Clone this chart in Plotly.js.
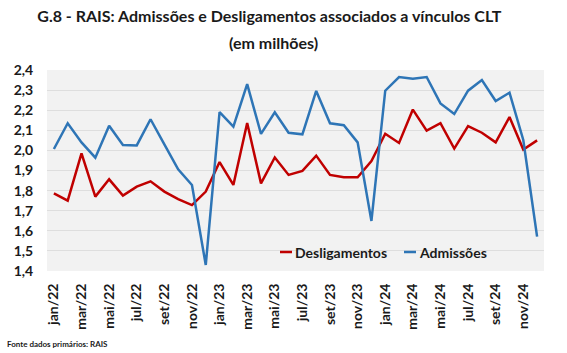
<!DOCTYPE html>
<html><head><meta charset="utf-8">
<script src="https://cdn.plot.ly/plotly-3.0.1.min.js"></script>
<style>body{margin:0;padding:0;background:#fff}#c{width:567px;height:353px}</style>
</head><body><div id="c"></div>
<script>
const months = ["jan/22","fev/22","mar/22","abr/22","mai/22","jun/22","jul/22","ago/22","set/22","out/22","nov/22","dez/22",
"jan/23","fev/23","mar/23","abr/23","mai/23","jun/23","jul/23","ago/23","set/23","out/23","nov/23","dez/23",
"jan/24","fev/24","mar/24","abr/24","mai/24","jun/24","jul/24","ago/24","set/24","out/24","nov/24","dez/24"];
const tickLabels = ["jan/22","mar/22","mai/22","jul/22","set/22","nov/22","jan/23","mar/23","mai/23","jul/23","set/23","nov/23","jan/24","mar/24","mai/24","jul/24","set/24","nov/24"];
const desligamentos = [1.786,1.750,1.985,1.770,1.856,1.775,1.820,1.846,1.795,1.758,1.728,1.795,
1.942,1.828,2.136,1.836,1.965,1.878,1.898,1.974,1.878,1.866,1.866,1.947,
2.083,2.037,2.203,2.098,2.135,2.009,2.121,2.088,2.040,2.166,2.004,2.050];
const admissoes = [2.007,2.135,2.040,1.964,2.123,2.027,2.025,2.155,2.030,1.906,1.828,1.430,
2.190,2.118,2.330,2.082,2.190,2.088,2.080,2.296,2.135,2.125,2.040,1.649,
2.297,2.365,2.357,2.365,2.234,2.181,2.297,2.350,2.246,2.287,2.052,1.571];
const seriesNames = ['Desligamentos','Admissões'];
const seriesColors = ['#C00000','#2E75B6'];

const F = "Lato, Calibri, sans-serif";
const TXT = '#1a1a1a';
const traces = [
 {x: months, y: desligamentos, type:'scatter', mode:'lines', name:seriesNames[0], line:{color:seriesColors[0], width:2.5}},
 {x: months, y: admissoes, type:'scatter', mode:'lines', name:seriesNames[1], line:{color:seriesColors[1], width:2.5}}
];
// custom compact legend (short line samples, like the original)
const legX = [[0.4688,0.4930],[0.7183,0.7425]];
const legY = 0.0945;
const shapes = legX.map((p,i)=>({type:'line', xref:'paper', yref:'paper', x0:p[0], x1:p[1], y0:legY, y1:legY,
  line:{color:seriesColors[i], width:2.5}}));
const annotations = [
  {text:'(em milhões)', xref:'paper', yref:'paper', x:0.455, y:1.139, xanchor:'center', yanchor:'middle', showarrow:false,
   font:{family:F, size:16, color:TXT, weight:'bold'}},
  {text:'Fonte dados primários: RAIS', xref:'paper', yref:'paper', x:-0.0845, y:-0.363, xanchor:'left', yanchor:'middle', showarrow:false,
   font:{family:F, size:8, color:TXT, weight:'bold'}}
].concat(legX.map((p,i)=>({text:seriesNames[i], xref:'paper', yref:'paper', x:p[1]+0.002, y:legY, xanchor:'left', yanchor:'middle',
   showarrow:false, font:{family:F, size:14, color:TXT, weight:'bold'}})));

const layout = {
 width:567, height:353,
 margin:{l:47, r:23, t:70, b:82},
 paper_bgcolor:'#ffffff', plot_bgcolor:'#F2F2F2',
 separators:',.',
 title:{text:'G.8 - RAIS: Admissões e Desligamentos associados a vínculos CLT', x:0.475, xanchor:'center', y:0.953, yanchor:'middle',
   font:{family:F, size:16, color:TXT, weight:'bold'}},
 annotations: annotations,
 shapes: shapes,
 xaxis:{type:'category', range:[-0.5,35.5], tickmode:'array', tickvals:tickLabels, ticktext:tickLabels, tickangle:-90,
   tickfont:{family:F, size:14, color:TXT, weight:'bold'}, showgrid:false, showline:false,
   ticks:'outside', ticklen:6, tickcolor:'rgba(0,0,0,0)', zeroline:false},
 yaxis:{range:[1.4,2.4], dtick:0.1, tick0:1.4, tickformat:'.1f', tickfont:{family:F, size:14, color:TXT, weight:'bold'},
   gridcolor:'#DEDEDE', gridwidth:1, zeroline:false, showline:false, ticks:'outside', ticklen:10, tickcolor:'rgba(0,0,0,0)'},
 showlegend:false
};
Plotly.newPlot('c', traces, layout, {displayModeBar:false, staticPlot:true});
</script></body></html>
